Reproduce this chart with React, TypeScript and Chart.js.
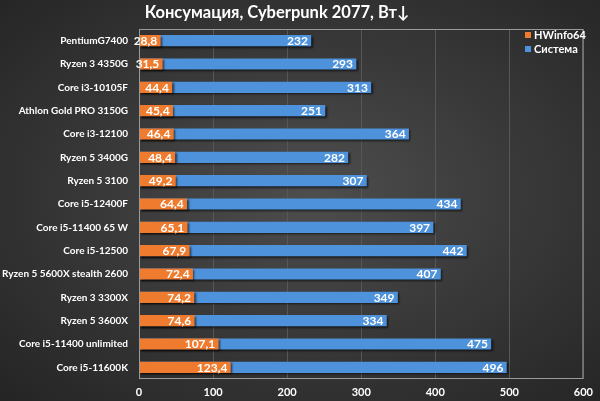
import { useEffect, useRef } from "react";
import { Chart, registerables, Plugin } from "chart.js";

Chart.register(...registerables);

const cpus = [
  "PentiumG7400",
  "Ryzen 3 4350G",
  "Core i3-10105F",
  "Athlon Gold PRO 3150G",
  "Core i3-12100",
  "Ryzen 5 3400G",
  "Ryzen 5 3100",
  "Core i5-12400F",
  "Core i5-11400 65 W",
  "Core i5-12500",
  "Ryzen 5 5600X stealth 2600",
  "Ryzen 3 3300X",
  "Ryzen 5 3600X",
  "Core i5-11400 unlimited",
  "Core i5-11600K",
];
const hwinfo = [28.8, 31.5, 44.4, 45.4, 46.4, 48.4, 49.2, 64.4, 65.1, 67.9, 72.4, 74.2, 74.6, 107.1, 123.4];
const system = [232, 293, 313, 251, 364, 282, 307, 434, 397, 442, 407, 349, 334, 475, 496];
const xTicks = [0, 100, 200, 300, 400, 500, 600];

const title = "Консумация, Cyberpunk 2077, Вт↓";
const FONT = "Lato, 'Open Sans', sans-serif";

const fmt = (v: number) => (Number.isInteger(v) ? String(v) : v.toFixed(1).replace(".", ","));

const decor: Plugin<"bar"> = {
  id: "decor",
  beforeDatasetDraw(chart) {
    const ctx = chart.ctx;
    ctx.save();
    ctx.shadowColor = "rgba(0,0,0,0.65)";
    ctx.shadowOffsetX = 1.5;
    ctx.shadowOffsetY = 1.5;
    ctx.shadowBlur = 2;
  },
  afterDatasetDraw(chart) {
    chart.ctx.restore();
  },
  afterDatasetsDraw(chart) {
    const ctx = chart.ctx;
    const { left, top, right, bottom } = chart.chartArea;
    ctx.save();
    // plot frame
    ctx.strokeStyle = "#9a9a9a";
    ctx.lineWidth = 1;
    ctx.strokeRect(left + 0.5, top + 0.5, right - left - 1, bottom - top - 1);

    // value labels
    ctx.fillStyle = "#ffffff";
    ctx.font = `bold 12px ${FONT}`;
    ctx.textAlign = "right";
    ctx.textBaseline = "middle";
    [1, 0].forEach((di) => {
      const meta = chart.getDatasetMeta(di);
      const vals = chart.data.datasets[di].data as number[];
      meta.data.forEach((el, i) => {
        ctx.fillText(fmt(vals[i]), el.x - 3, el.y + 0.5);
      });
    });

    // title
    ctx.font = `bold 16.5px ${FONT}`;
    ctx.textAlign = "center";
    ctx.fillText(title, 277, 13);

    // legend
    ctx.font = `bold 11px ${FONT}`;
    ctx.textAlign = "left";
    chart.data.datasets.forEach((ds, i) => {
      const y = 35 + i * 14;
      ctx.fillStyle = ds.backgroundColor as string;
      ctx.fillRect(525, y - 3, 6, 6);
      ctx.fillStyle = "#ffffff";
      ctx.fillText(ds.label as string, 534, y);
    });
    ctx.restore();
  },
};

export default function App() {
  const canvasRef = useRef<HTMLCanvasElement>(null);

  useEffect(() => {
    document.body.style.margin = "0";
    if (!canvasRef.current) return;
    const chart = new Chart(canvasRef.current, {
      type: "bar",
      data: {
        labels: cpus,
        datasets: [
          {
            label: "HWinfo64",
            data: hwinfo,
            backgroundColor: "#ef7b2e",
            barThickness: 10.5,
          },
          {
            label: "Система",
            data: system,
            backgroundColor: "#4d92da",
            barThickness: 10.5,
          },
        ],
      },
      options: {
        indexAxis: "y",
        animation: false,
        responsive: true,
        maintainAspectRatio: false,
        layout: { padding: { top: 29, right: 13, left: 0, bottom: 0 } },
        plugins: {
          legend: { display: false },
          title: { display: false },
          tooltip: { enabled: false },
        },
        scales: {
          x: {
            min: 0,
            max: 600,
            afterBuildTicks: (s) => {
              s.ticks = xTicks.map((v) => ({ value: v }));
            },
            afterFit: (s) => {
              s.height = 22;
            },
            grid: { color: "#575757", drawTicks: false },
            border: { display: false },
            ticks: {
              color: "#ffffff",
              padding: 7,
              font: { family: FONT, size: 11, weight: "bold" },
            },
          },
          y: {
            stacked: true,
            afterFit: (s) => {
              s.width = 139;
            },
            grid: { display: false, drawTicks: false },
            border: { display: false },
            ticks: {
              color: "#ffffff",
              padding: 11,
              font: { family: FONT, size: 10, weight: "bold" },
            },
          },
        },
      },
      plugins: [decor],
    });
    return () => chart.destroy();
  }, []);

  return (
    <div
      style={{
        width: 600,
        height: 401,
        background: "radial-gradient(ellipse at 52% 48%, #4e4e4e 0%, #3a3a3a 45%, #242424 100%)",
      }}
    >
      <canvas ref={canvasRef} />
    </div>
  );
}
